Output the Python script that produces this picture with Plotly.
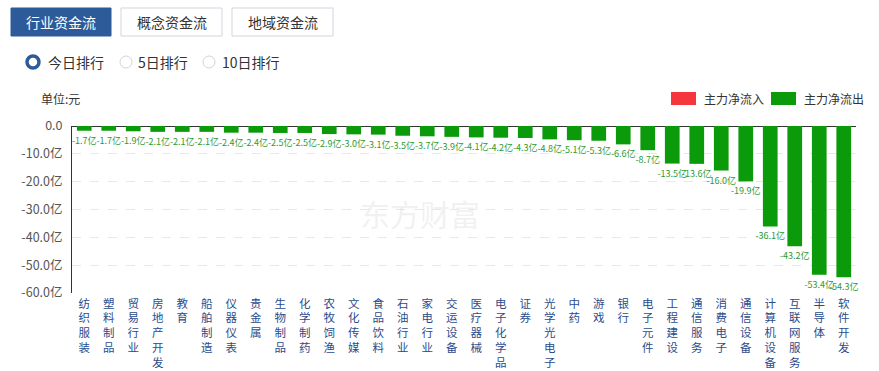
import plotly.graph_objects as go

categories = ["纺织服装", "塑料制品", "贸易行业", "房地产开发", "教育", "船舶制造", "仪器仪表", "贵金属",
              "生物制品", "化学制药", "农牧饲渔", "文化传媒", "食品饮料", "石油行业", "家电行业", "交运设备",
              "医疗器械", "电子化学品", "证券", "光学光电子", "中药", "游戏", "银行", "电子元件",
              "工程建设", "通信服务", "消费电子", "通信设备", "计算机设备", "互联网服务", "半导体", "软件开发"]
values = [-1.7, -1.7, -1.9, -2.1, -2.1, -2.1, -2.4, -2.4, -2.5, -2.5, -2.9, -3.0, -3.1, -3.5, -3.7, -3.9,
          -4.1, -4.2, -4.3, -4.8, -5.1, -5.3, -6.6, -8.7, -13.5, -13.6, -16.0, -19.9, -36.1, -43.2, -53.4, -54.3]
y_ticks = [0, -10, -20, -30, -40, -50, -60]
y_tick_labels = ["0.0", "-10.0亿", "-20.0亿", "-30.0亿", "-40.0亿", "-50.0亿", "-60.0亿"]
tabs = ["行业资金流", "概念资金流", "地域资金流"]
radios = ["今日排行", "5日排行", "10日排行"]
legend_names = ["主力净流入", "主力净流出"]

FONT = "Noto Sans CJK SC, Microsoft YaHei, sans-serif"
GREEN = "#0a9a0a"
RED = "#f5363c"
W, H = 879, 371
L, R, T, B = 72, 23, 126, 78
pw, ph = W - L - R, H - T - B

def px(x):
    return (x - L) / pw

def py(y):
    return 1 - (y - T) / ph

fig = go.Figure()
fig.add_trace(go.Bar(
    x=categories, y=values,
    marker=dict(color=GREEN, line=dict(width=0)),
    width=0.6,
    text=[f"{v:.1f}亿" for v in values],
    textposition="outside",
    textfont=dict(size=9, color="#2e9a2e", family=FONT),
    constraintext="none",
    cliponaxis=False,
    showlegend=False,
    hoverinfo="skip",
))

shapes = []
annotations = []

# tabs
tab_x = [(11, 111), (121, 222), (232, 333)]
for i, (name, (x0, x1)) in enumerate(zip(tabs, tab_x)):
    shapes.append(dict(type="rect", xref="paper", yref="paper",
                       x0=px(x0), x1=px(x1), y0=py(36), y1=py(8),
                       fillcolor="#2d5b9a" if i == 0 else "white",
                       line=dict(color="#2d5b9a" if i == 0 else "#cfd6e0", width=1), layer="above"))
    annotations.append(dict(xref="paper", yref="paper", x=px((x0 + x1) / 2), y=py(22),
                            text=name, showarrow=False, xanchor="center", yanchor="middle",
                            font=dict(size=14, color="white" if i == 0 else "#333333", family=FONT)))

# radios
radio_pos = [(33, 46), (126, 136), (209, 220)]
for i, (name, (cx, tx)) in enumerate(zip(radios, radio_pos)):
    shapes.append(dict(type="circle", xref="paper", yref="paper",
                       x0=px(cx - 6), x1=px(cx + 6), y0=py(68), y1=py(56),
                       fillcolor="white", line=dict(color="#2d5b9a" if i == 0 else "#d0d5dc",
                                                    width=3.5 if i == 0 else 1)))
    annotations.append(dict(xref="paper", yref="paper", x=px(tx), y=py(62),
                            text=name, showarrow=False, xanchor="left", yanchor="middle",
                            font=dict(size=14, color="#333333", family=FONT)))

# unit label
annotations.append(dict(xref="paper", yref="paper", x=px(39), y=py(98), text="单位:元",
                        showarrow=False, xanchor="left", yanchor="middle",
                        font=dict(size=12, color="#333333", family=FONT)))

# legend
leg = [(671, 702, RED), (771, 802, GREEN)]
for name, (x0, tx, col) in zip(legend_names, leg):
    shapes.append(dict(type="rect", xref="paper", yref="paper",
                       x0=px(x0), x1=px(x0 + 25), y0=py(105), y1=py(92),
                       fillcolor=col, line=dict(width=0)))
    annotations.append(dict(xref="paper", yref="paper", x=px(tx), y=py(98.5), text=name,
                            showarrow=False, xanchor="left", yanchor="middle",
                            font=dict(size=12, color="#333333", family=FONT)))

# watermark
annotations.append(dict(xref="paper", yref="paper", x=px(420), y=py(213), text="东方财富",
                        showarrow=False, xanchor="center", yanchor="middle",
                        font=dict(size=30, color="rgba(200,200,200,0.25)", family=FONT)))

fig.update_layout(
    width=W, height=H,
    margin=dict(l=L, r=R, t=T, b=B, autoexpand=False),
    paper_bgcolor="white", plot_bgcolor="white",
    bargap=0.4,
    shapes=shapes,
    annotations=annotations,
    font=dict(family=FONT),
    xaxis=dict(
        tickmode="array",
        tickvals=categories,
        ticktext=["<br>".join(list(c)) for c in categories],
        tickfont=dict(size=11.5, color="#2b4c8c", family=FONT),
        showline=False, showgrid=False, ticks="", zeroline=False,
        tickangle=0, automargin=False, ticklabelstandoff=2,
        fixedrange=True,
    ),
    yaxis=dict(
        range=[-60, 0],
        tickmode="array",
        tickvals=y_ticks,
        ticktext=y_tick_labels,
        tickfont=dict(size=12.5, color="#555555", family=FONT),
        showgrid=True, gridcolor="#e8e8e8", griddash="dash", gridwidth=1,
        zeroline=True, zerolinecolor="#333333", zerolinewidth=1,
        showline=True, linecolor="#333333", linewidth=1,
        ticks="", ticklabelstandoff=6, automargin=False,
        fixedrange=True,
    ),
)

fig.write_html("out.html", config={"displayModeBar": False},
               post_script="document.body.style.margin='0';document.body.style.padding='0';")
